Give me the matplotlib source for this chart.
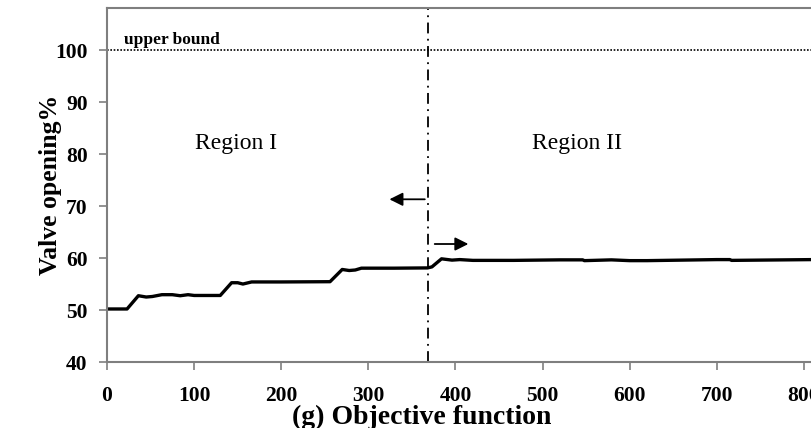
import numpy as np
import matplotlib.pyplot as plt

# valve opening (%) against iteration of the objective function
iteracion = [0, 23, 36, 45, 52, 63, 75, 84, 93, 100, 130, 143, 150, 156, 166, 200,
             256, 270, 278, 285, 292, 330, 368, 373, 384, 396, 405, 420, 467, 520,
             546, 548, 579, 600, 620, 700, 715, 717, 810]
apertura = [50.2, 50.2, 52.75, 52.5, 52.6, 52.95, 52.95, 52.75, 52.95, 52.8, 52.8,
            55.25, 55.25, 55.0, 55.4, 55.4, 55.45, 57.8, 57.6, 57.7, 58.05, 58.05,
            58.1, 58.3, 59.85, 59.6, 59.7, 59.55, 59.55, 59.65, 59.65, 59.5, 59.65,
            59.5, 59.5, 59.7, 59.7, 59.55, 59.7]

cota_superior = 100
frontera = 368
yticks = [40, 50, 60, 70, 80, 90, 100]
xticks = [0, 100, 200, 300, 400, 500, 600, 700, 800]

plt.rcParams['font.family'] = ['Liberation Serif', 'DejaVu Serif']

fig = plt.figure(figsize=(8.12, 4.28), dpi=100)
ax = fig.add_axes([0.1318, 0.1542, 0.9655, 0.8271])

ax.plot(iteracion, apertura, color='black', linewidth=2.4, solid_joinstyle='round')
ax.axhline(cota_superior, color='black', linestyle=(0, (1, 1)), linewidth=1.2)
ax.axvline(frontera, color='black', linestyle=(0, (6, 3, 1, 3)), linewidth=1.3)

ax.text(20, 101.2, 'upper bound', fontsize=12.5, fontweight='bold')
ax.text(148, 82, 'Region I', fontsize=17, ha='center', va='center')
ax.text(540, 82, 'Region II', fontsize=17, ha='center', va='center')

ax.annotate('', xy=(321, 71.3), xytext=(frontera, 71.3),
            arrowprops=dict(arrowstyle='-|>', color='black', lw=1.3, mutation_scale=20))
ax.annotate('', xy=(418, 62.7), xytext=(frontera + 5, 62.7),
            arrowprops=dict(arrowstyle='-|>', color='black', lw=1.3, mutation_scale=20))

ax.set_xlim(0, 900)
ax.set_ylim(40, 108.1)
ax.set_xticks(xticks)
ax.set_yticks(yticks)
ax.tick_params(direction='out', length=6, width=1.2, color='#7f7f7f',
               labelsize=15.5, pad=8)
ax.tick_params(axis='x', pad=11)
for lab in ax.get_xticklabels() + ax.get_yticklabels():
    lab.set_fontweight('bold')
for lado in ['left', 'bottom', 'top']:
    ax.spines[lado].set_color('#7f7f7f')
    ax.spines[lado].set_linewidth(1.5)
ax.spines['right'].set_visible(False)

# the y label sits close to the axis, beside the 60-90 tick labels
ax.set_ylabel('Valve opening%', fontsize=18.5, fontweight='bold')
ax.yaxis.set_label_coords(-0.057, 0.5)
fig.text(422 / 812, 1 - 405 / 428, '(g) Objective function', fontsize=20,
         fontweight='bold', ha='center', va='top')

fig.savefig('out.png', dpi=100)
